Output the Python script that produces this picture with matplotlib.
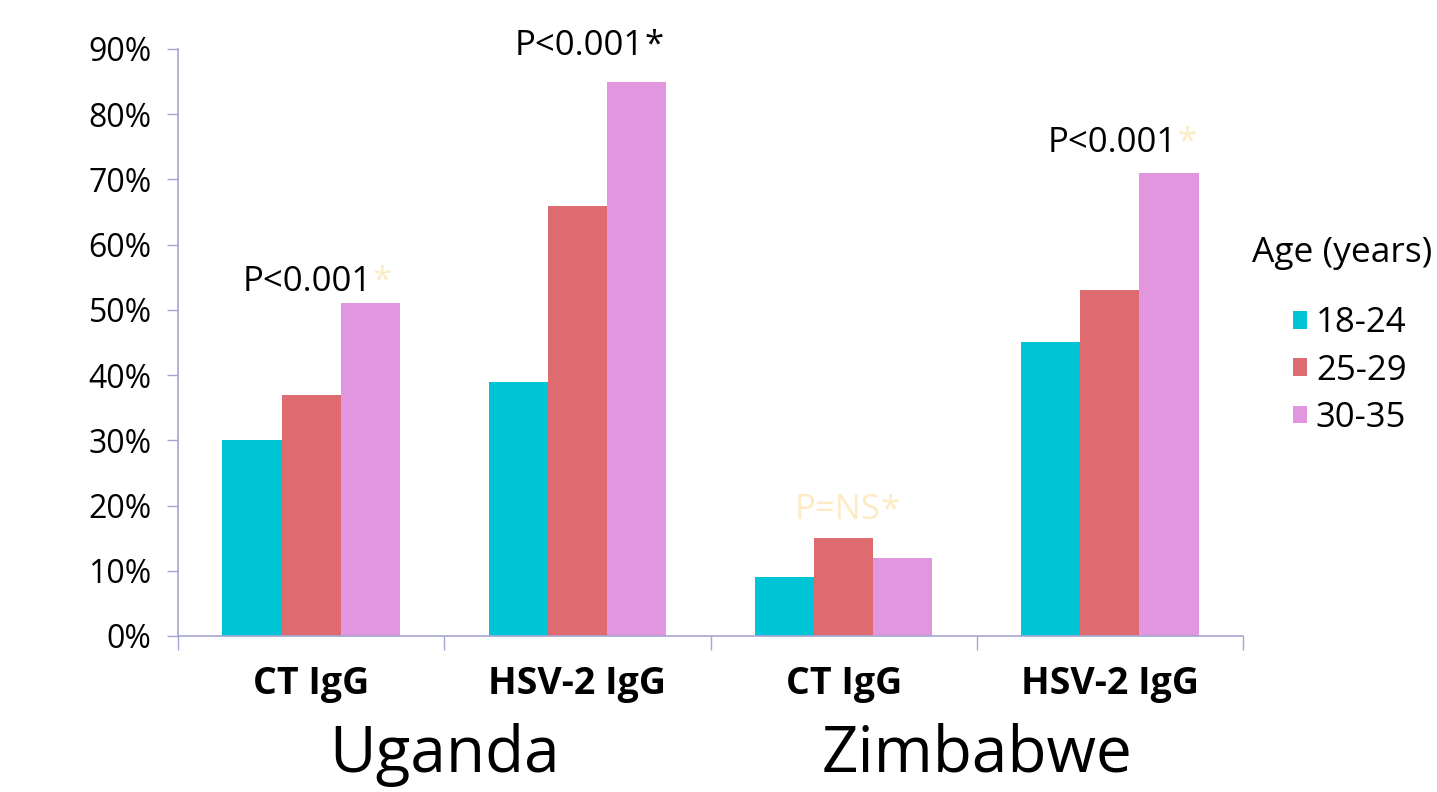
import matplotlib.pyplot as plt
import matplotlib.transforms as mtransforms
from matplotlib.patches import Patch
import numpy as np

plt.rcParams['font.family'] = ['Open Sans', 'DejaVu Sans']

# data
categories = ['CT IgG', 'HSV-2 IgG', 'CT IgG', 'HSV-2 IgG']
countries = ['Uganda', 'Zimbabwe']
age_groups = ['18-24', '25-29', '30-35']
age_18_24 = [30, 39, 9, 45]
age_25_29 = [37, 66, 15, 53]
age_30_35 = [51, 85, 12, 71]
p_labels = ['P<0.001', 'P<0.001', 'P=NS', 'P<0.001']
star_light = [True, False, True, True]   # asterisk drawn in pale yellow
label_light = [False, False, True, False]

colors = ['#00C5D6', '#DE6B70', '#E396E0']
pale = '#FDEBC4'
axis_col = '#A5A5D2'

fig = plt.figure(figsize=(14.37, 7.92), dpi=100)
ax = fig.add_axes([178/1437, 1-636/792, (1243-178)/1437, (636-49)/792])

x = np.arange(len(categories))
w = 0.222
series = [age_18_24, age_25_29, age_30_35]
for i, vals in enumerate(series):
    ax.bar(x + (i-1)*w, np.array(vals)/100, width=w, color=colors[i],
           label=age_groups[i], zorder=2)

ax.set_xlim(-0.5, len(categories)-0.5)
ax.set_ylim(0, 0.9)
ax.set_yticks(np.arange(0, 0.91, 0.1))
ax.set_yticklabels([f'{int(round(v*100))}%' for v in np.arange(0, 0.91, 0.1)],
                   fontsize=23)
ax.tick_params(axis='y', length=8, color=axis_col, width=1, pad=11)

ax.set_xticks(np.arange(-0.5, len(categories), 1.0))
ax.set_xticklabels([])
ax.tick_params(axis='x', which='major', length=10, color=axis_col, width=1)
ax.set_xticks(x, minor=True)
ax.set_xticklabels(categories, minor=True, fontsize=27, fontweight='bold')
ax.tick_params(axis='x', which='minor', length=0, pad=21)

for s in ['top', 'right']:
    ax.spines[s].set_visible(False)
for s in ['left', 'bottom']:
    ax.spines[s].set_color(axis_col)
    ax.spines[s].set_linewidth(1.2)

# p-value annotations
p_y = [0.543, 0.905, 0.193, 0.756]
p_x = [-0.256, 0.766, 1.817, 2.768]
for i in range(len(categories)):
    t = ax.text(p_x[i], p_y[i], p_labels[i], fontsize=25, ha='left', va='center',
                color=pale if label_light[i] else 'black')
    ax.annotate('*', xy=(1, 0), xycoords=t, ha='left', va='bottom', fontsize=25,
                color=pale if star_light[i] else 'black')

# country labels
trans = mtransforms.blended_transform_factory(ax.transData, fig.transFigure)
for j, c in enumerate(countries):
    fig.text(0.5 + 2*j, 1-755/792, c, transform=trans, ha='center', va='center',
             fontsize=46)

# legend
fig.text(1252/1437, 1-253/792, 'Age (years)', fontsize=25.5, ha='left', va='center')
handles = [Patch(facecolor=colors[i], label=age_groups[i]) for i in range(3)]
fig.legend(handles=handles, loc='upper left', bbox_to_anchor=(1276/1437, 1-289/792),
           frameon=False, fontsize=25, handlelength=0.4, handleheight=0.4,
           handletextpad=0.25, labelspacing=0.38, borderpad=0)

fig.savefig('out.png', dpi=100)
